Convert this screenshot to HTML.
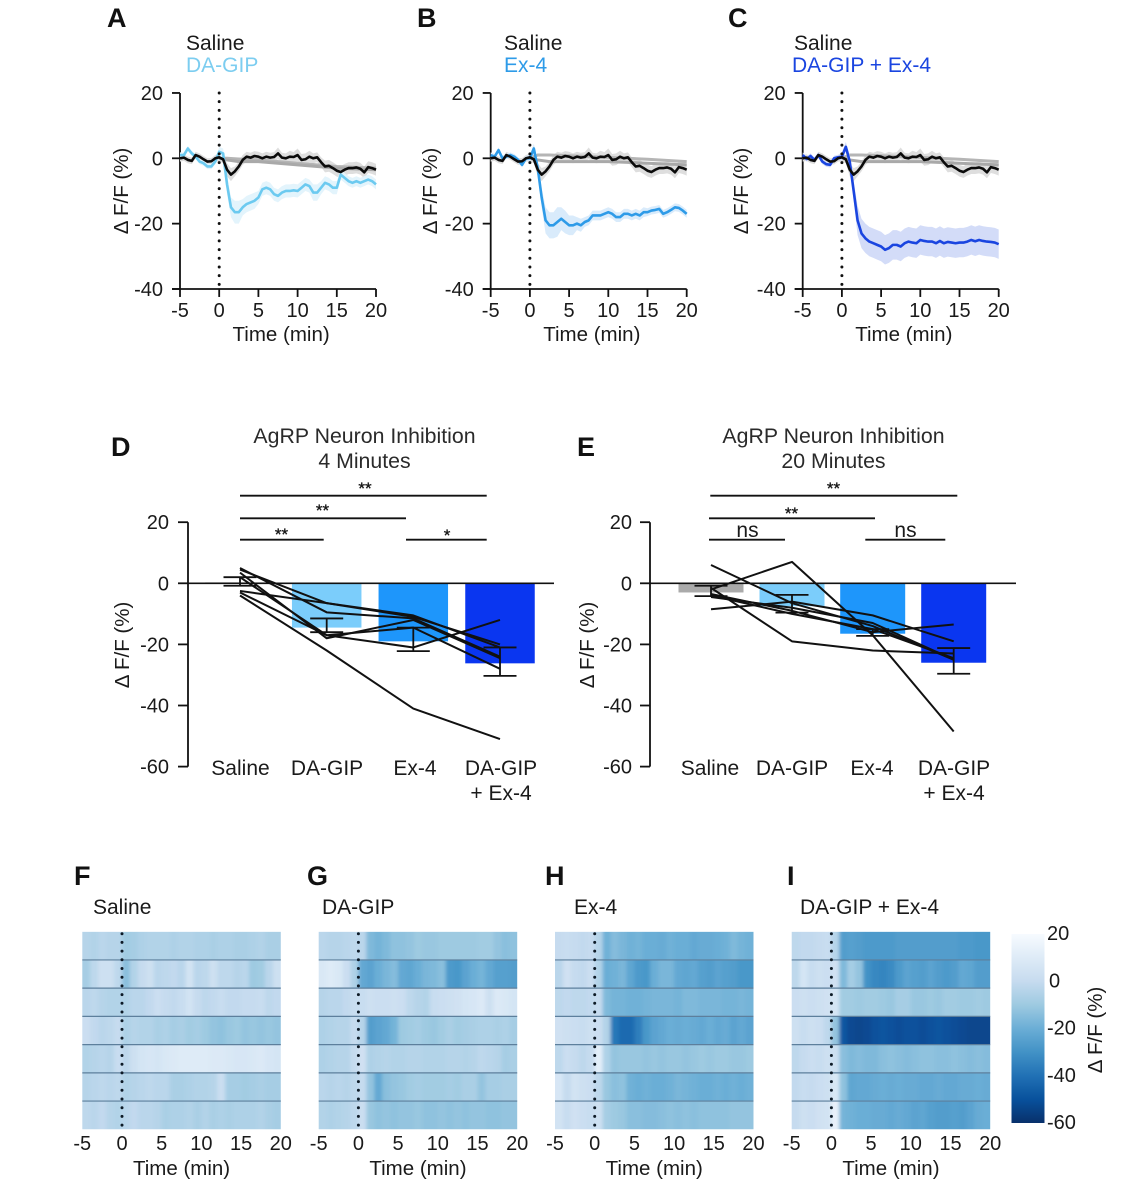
<!DOCTYPE html>
<html lang="en">
<head>
<meta charset="utf-8">
<title>AgRP neuron inhibition figure</title>
<style>
html,body{margin:0;padding:0;background:#fff;}
#figure{display:block;width:1136px;height:1200px;font-family:"Liberation Sans",sans-serif;fill:#1a1a1a;filter:blur(0.35px);}
#figure text{font-family:"Liberation Sans",sans-serif;}
.tick{font-size:20px;}
.letter{font-size:27px;font-weight:bold;fill:#111;}
.lab{font-size:20.5px;}
.legend{font-size:21px;}
.title{font-size:21.3px;fill:#2a2a2a;}
.star{font-size:17px;stroke:#1a1a1a;stroke-width:0.35px;}
</style>
</head>
<body>
<svg id="figure" xmlns="http://www.w3.org/2000/svg" width="1136" height="1200" viewBox="0 0 1136 1200">
  <defs>
    <filter id="smear" x="-5%" y="0%" width="110%" height="100%"><feGaussianBlur stdDeviation="1.8 0"/></filter>
    <linearGradient id="cbar-gradient" x1="0" y1="0" x2="0" y2="1"></linearGradient>
  </defs>
  <text class="letter" x="107" y="27">A</text>
  <text class="letter" x="417" y="27">B</text>
  <text class="letter" x="728" y="27">C</text>
  <text class="letter" x="111" y="456">D</text>
  <text class="letter" x="577" y="456">E</text>
  <text class="letter" x="74" y="885">F</text>
  <text class="letter" x="307" y="885">G</text>
  <text class="letter" x="545" y="885">H</text>
  <text class="letter" x="787" y="885">I</text>

  <text class="legend" x="186" y="50">Saline</text>
  <text class="legend" x="186" y="72" style="fill:#7ccdf0">DA-GIP</text>
  <text class="legend" x="504" y="50">Saline</text>
  <text class="legend" x="504" y="72" style="fill:#2e9be8">Ex-4</text>
  <text class="legend" x="794" y="50">Saline</text>
  <text class="legend" x="792" y="72" style="fill:#1a45e0">DA-GIP + Ex-4</text>

  <text class="title" x="364.5" y="443" text-anchor="middle">AgRP Neuron Inhibition</text>
  <text class="title" x="364.5" y="468" text-anchor="middle">4 Minutes</text>
  <text class="title" x="833.5" y="443" text-anchor="middle">AgRP Neuron Inhibition</text>
  <text class="title" x="833.5" y="468" text-anchor="middle">20 Minutes</text>

  <text class="legend" x="93" y="914">Saline</text>
  <text class="legend" x="322" y="914">DA-GIP</text>
  <text class="legend" x="574" y="914">Ex-4</text>
  <text class="legend" x="800" y="914">DA-GIP + Ex-4</text>
  <g id="layer"></g>
</svg>
<script>
/* ---------- Panels A-C: time-course data ---------- */
const timeMin = [-5,-4.5,-4,-3.5,-3,-2.5,-2,-1.5,-1,-0.5,0,0.5,1,1.5,2,2.5,3,3.5,4,4.5,5,5.5,6,6.5,7,7.5,8,8.5,9,9.5,10,10.5,11,11.5,12,12.5,13,13.5,14,14.5,15,15.5,16,16.5,17,17.5,18,18.5,19,19.5,20];
const salineMean = [0,0.2,-0.5,-0.8,1,0.5,-0.3,-1,-0.9,0,0.3,-0.3,-3.5,-5,-4,-2.5,-0.5,0.5,0.2,0.7,0.5,0,0.5,0.2,0.4,1.5,0.2,0,0.5,0.4,1,-0.5,-0.3,0.5,0,0.3,-1.2,-2.5,-2.3,-3,-3.8,-4.2,-3.5,-3,-3,-2.8,-3.2,-4.3,-2.7,-3,-3.5];
const salineSem = [1,1,1,1,1,1,1,1,1,1,1.2,1.2,2,2,1.5,1.5,1.5,1.5,1.5,1.5,1.5,1.5,1.5,1.5,1.5,1.8,1.5,1.5,1.8,1.5,2,1.8,1.8,1.8,1.5,1.5,1.5,1.8,1.8,1.8,1.8,1.8,1.8,1.8,1.8,1.8,1.8,1.8,1.8,1.8,1.8];
const daGipMean = [1,1,3,1.5,0.5,-1,-1.5,-2.5,-2.5,-1,2,1.5,-8,-15,-16.5,-16.5,-15,-14,-13.5,-13,-12,-9.5,-9,-9.5,-11,-11.5,-10.5,-10,-10,-9.8,-10,-9,-8,-8.5,-10.5,-10.5,-9,-7.5,-8,-9,-9,-5,-6,-7,-7.5,-7,-7.5,-7,-6.5,-7,-8];
const daGipSem = [0.8,0.8,0.8,0.8,0.8,0.8,0.8,0.8,0.8,0.8,1.5,1.5,3,3,3.5,3.5,2.5,2.5,2.5,2.5,2,2,2,2,2,2,2,2,2,2,2,2,2,2,2.5,2.5,2,2,2,2,2,1.5,1.5,1.5,1.5,1.5,1.5,1.5,1.5,1.5,1.5];
const ex4Mean = [1,0.5,2.5,0,0.5,1,0.5,-0.5,-2,0,0,3,-3,-12,-19,-20.5,-20.5,-19.5,-18.5,-19.5,-20.5,-20.5,-20,-20.5,-19.5,-19,-17.5,-17.5,-17.5,-17,-16.5,-17,-18,-18,-17,-17,-17.5,-17,-17.5,-16.5,-16.5,-16,-15.8,-15.5,-17,-16.5,-15.8,-15,-15.2,-16,-17];
const ex4Sem = [0.8,0.8,0.8,0.8,0.8,0.8,0.8,0.8,0.8,0.8,1,1.5,2,3,4,4,4,4.5,3.5,3.5,3,3,2,2,1.5,1.5,1.5,1.5,1.5,1.5,1.5,1.5,1.5,1.5,1.5,1.5,1.5,1.5,1.5,1.5,1.2,1.2,1.2,1.2,1.2,1.2,1.2,1.2,1.2,1.2,1.2];
const comboMean = [1,-0.2,0.7,-0.5,1,-1,-1.8,-2,0,0.3,0.5,3.5,-1,-10,-19,-23,-24.5,-25.5,-26,-26.5,-27,-28,-27.5,-26.5,-26.5,-27,-26,-25.5,-25.8,-26,-25,-25.3,-25.5,-25.5,-26,-25.3,-26,-25.6,-25.8,-26,-25.8,-25.8,-25.5,-25,-25.4,-25,-25.3,-25.5,-25.6,-25.8,-26.3];
const comboSem = [0.8,0.8,0.8,0.8,0.8,0.8,0.8,0.8,0.8,0.8,1.2,1.5,2,3,4.5,4.5,4.5,4.5,4.5,4.5,4.5,4.5,4.5,4.5,4.5,4.5,4.5,4.5,4.5,4.5,4.5,4.5,4.5,4.5,4.5,4.5,4.5,4.5,4.5,4.5,4.5,4.5,4.5,4.5,4.5,4.5,4.5,4.5,4.5,4.5,4.5];
const fitTimes = [0,1,2.5,5,10,15,20];
const fitAUpper = [0,0,-0.2,-0.5,-1.5,-2.5,-3];
const fitALower = [0,-0.5,-1,-1,-2,-3,-3.5];
const fitBCUpper = [0,1,1,0.8,0.3,-0.3,-1];
const fitBCLower = [0,-0.5,-1,-1,-1,-1.5,-2];
const timeTicks = [-5,0,5,10,15,20];
const traceYTicks = [20,0,-20,-40];

/* ---------- Panels D-E: bar data ---------- */
const barCategories = ["Saline","DA-GIP","Ex-4","DA-GIP + Ex-4"];
const barYTicks = [20,0,-20,-40,-60];
const dBarValues = [0.3,-14.5,-19,-26.2];
const dErrHigh = [2,-11.5,-14.5,-21];
const dErrLow = [-0.8,-16,-22.2,-30.3];
const dSubject1 = [4.5,-6.5,-11,-20];
const dSubject2 = [5,-9.5,-11.5,-24];
const dSubject3 = [3.5,-18,-12,-24.5];
const dSubject4 = [2,-17,-21,-12];
const dSubject5 = [-2.5,-6.5,-10.5,-21];
const dSubject6 = [-3,-17,-14.5,-28];
const dSubject7 = [-4,-22,-41,-51];
const eBarValues = [-3,-7.5,-16.5,-26];
const eErrHigh = [-0.8,-3.8,-15,-21.2];
const eErrLow = [-4.2,-9.6,-17.2,-29.6];
const eSubject1 = [6,-6.5,-14,-25];
const eSubject2 = [-2,7,-17,-48.5];
const eSubject3 = [-8.5,-6,-10.5,-19];
const eSubject4 = [-1.5,-19,-22,-23];
const eSubject5 = [-3.5,-9,-16,-13.5];
const eSubject6 = [-4,-10,-15,-24.5];
const eSubject7 = [-4.5,-8,-13,-25];

/* ---------- Panels F-I: heatmap data (1-min bins, -5 to 20 min) ---------- */
const heatF = [
[-4,-5,-3,-4,-4,-9,-8,-6,-5,-5,-5,-6,-5,-5,-6,-6,-7,-6,-6,-7,-7,-6,-5,-7,-7],
[-8,-2,3,3,-2,-14,-5,0,3,-3,-2,-1,-3,5,-3,-2,3,-2,-2,-4,-3,-10,-9,-3,3],
[-3,-2,-4,-5,-5,-5,-3,-3,-1,2,0,-1,1,5,0,-2,-1,1,-1,-1,0,0,1,-2,-1],
[2,-1,-3,-2,0,-6,-4,-5,-5,-7,-6,-8,-7,-9,-8,-10,-12,-13,-11,-10,-12,-11,-12,-11,-12],
[-5,-4,-3,-4,1,-2,3,6,7,6,8,9,10,10,10,10,9,9,8,7,7,8,9,7,6],
[-4,-3,-2,-3,-2,-5,-4,-3,-2,-3,-3,-7,-7,-6,-5,-5,-4,2,-8,-8,-9,-8,-7,-8,-8],
[-2,-3,-1,-4,-5,-3,-1,-3,-3,-4,-7,-6,-6,-5,-7,-5,-7,-6,-7,-6,-6,-6,-5,-7,-8]];
const heatG = [
[-3,-4,-4,-3,-2,-3,-16,-18,-16,-13,-13,-12,-10,-11,-11,-10,-10,-10,-10,-10,-9,-9,-12,-14,-13],
[8,10,8,2,-6,-22,-24,-20,-17,-15,-22,-23,-20,-17,-16,-14,-27,-28,-24,-20,-18,-22,-25,-25,-26],
[-4,-3,-3,-1,1,1,3,2,2,3,2,-2,-4,-5,1,2,3,4,6,7,9,3,9,8,6],
[-6,-5,-4,-4,0,-4,-26,-24,-22,-18,-10,-9,-8,-10,-11,-9,-7,-9,-8,-7,-6,-6,-7,-6,-8],
[-6,-5,-4,-4,0,4,-6,-5,-4,-5,-5,-4,-4,-5,-5,-5,-4,-4,-5,-4,-2,-3,-4,-8,-7],
[-3,-4,-3,-4,-2,0,-12,-22,-14,-12,-11,-9,-8,-9,-9,-9,-8,-9,-7,-7,-12,-8,-8,-7,-7],
[-5,-6,-5,-4,-2,2,-11,-13,-12,-13,-12,-12,-11,-13,-13,-12,-13,-12,-13,-12,-12,-13,-13,-12,-12]];
const heatH = [
[0,1,0,-1,0,-4,-19,-15,-17,-19,-18,-20,-20,-21,-19,-20,-20,-22,-21,-21,-20,-19,-16,-18,-19],
[-3,4,0,-1,2,-5,-20,-19,-17,-23,-27,-28,-20,-17,-17,-22,-23,-22,-25,-26,-24,-25,-26,-28,-28],
[-2,-1,-2,-2,-1,0,-16,-18,-18,-19,-19,-18,-17,-17,-17,-18,-16,-16,-17,-17,-17,-18,-18,-17,-18],
[4,3,2,1,3,2,-5,-38,-42,-42,-36,-28,-24,-22,-20,-21,-20,-21,-22,-20,-22,-21,-24,-22,-24],
[-2,2,0,-2,0,12,-6,-12,-11,-11,-11,-12,-11,-12,-11,-11,-12,-11,-10,-11,-10,-10,-11,-11,-10],
[7,0,5,3,2,-2,-11,-14,-13,-19,-20,-19,-20,-20,-19,-17,-18,-19,-20,-20,-19,-20,-19,-20,-19],
[5,1,4,2,1,3,-8,-10,-11,-14,-14,-15,-15,-14,-13,-14,-13,-14,-13,-13,-13,-13,-12,-12,-12]];
const heatI = [
[-2,-1,-1,0,1,-4,-26,-25,-26,-27,-27,-27,-27,-26,-26,-26,-26,-26,-26,-26,-26,-27,-27,-28,-28],
[-2,6,1,3,2,4,-16,-8,-12,-30,-33,-34,-32,-27,-24,-25,-26,-24,-26,-27,-26,-22,-23,-26,-26],
[2,3,2,3,4,6,-9,-9,-10,-9,-9,-10,-11,-8,-8,-11,-11,-10,-11,-9,-9,-10,-10,-9,-10],
[3,1,3,2,-2,-12,-48,-52,-53,-52,-50,-49,-50,-51,-50,-50,-51,-50,-49,-50,-51,-52,-53,-53,-53],
[-2,0,2,1,3,3,-14,-16,-15,-16,-16,-14,-13,-14,-15,-14,-13,-13,-14,-14,-13,-14,-15,-14,-15],
[-1,1,0,2,3,8,-13,-23,-22,-22,-21,-20,-21,-20,-21,-21,-22,-22,-21,-22,-22,-21,-21,-20,-21],
[0,3,2,4,5,14,-18,-19,-20,-20,-21,-21,-22,-21,-22,-24,-23,-25,-26,-26,-25,-26,-24,-21,-20]];
const colorbarTicks = [20,0,-20,-40,-60];
const blues = ["#f7fbff","#deebf7","#c6dbef","#9ecae1","#6baed6","#4292c6","#2171b5","#08519c","#08306b"];

const NS = "http://www.w3.org/2000/svg";
const layer = document.getElementById("layer");

function mk(tag, attrs, parent) {
  const el = document.createElementNS(NS, tag);
  for (const k in attrs) el.setAttribute(k, attrs[k]);
  
  parent.appendChild(el);
  return el;
}
function txt(label, attrs, parent) {
  const el = mk("text", attrs, parent);
  el.textContent = label;
  return el;
}
function hex2rgb(h) { return [1,3,5].map(i => parseInt(h.substr(i,2),16)); }
function heatColor(v) {
  const t = Math.max(0, Math.min(1, (20 - v) / 80)) * (blues.length - 1);
  const i = Math.min(blues.length - 2, Math.floor(t));
  const a = hex2rgb(blues[i]), b = hex2rgb(blues[i+1]), f = t - i;
  return "rgb(" + a.map((c, j) => Math.round(c + (b[j] - c) * f)).join(",") + ")";
}
function pathOf(xs, ys) {
  return xs.map((x, i) => (i ? "L" : "M") + x.toFixed(2) + " " + ys[i].toFixed(2)).join("");
}

/* ---------- time-course panels ---------- */
function tracePanel(key, x0, series, sem, color, band, fitUpper, fitLower, labelX) {
  const g = mk("g", {}, layer);
  
  const sx = t => x0 + (t + 5) * 196 / 25;
  const sy = v => 158.3 - v * 196 / 60;

  const yAxis = mk("path", {d:"M"+x0+" "+sy(20)+"V"+sy(-40), stroke:"#111", "stroke-width":1.8, fill:"none"}, g);
  
  const xAxis = mk("path", {d:"M"+(x0-8)+" "+sy(-40)+"H"+sx(20), stroke:"#111", "stroke-width":1.8, fill:"none"}, g);
  
  traceYTicks.forEach(v => {
    const tick = mk("line", {x1:x0-8, x2:x0, y1:sy(v), y2:sy(v), stroke:"#111", "stroke-width":1.8}, g);
    
    const lab = txt(String(v), {class:"tick", x:x0-17, y:sy(v)+7, "text-anchor":"end"}, g);
    
  });
  timeTicks.forEach(v => {
    const tick = mk("line", {x1:sx(v), x2:sx(v), y1:sy(-40), y2:sy(-40)+8, stroke:"#111", "stroke-width":1.8}, g);
    
    const lab = txt(String(v), {class:"tick", x:sx(v), y:317, "text-anchor":"middle"}, g);
    
  });
  const xt = txt("Time (min)", {class:"lab", x:sx(7.9), y:341, "text-anchor":"middle"}, g);
  
  const yt = txt("Δ F/F (%)", {class:"lab", transform:"translate("+labelX+",191) rotate(-90)", "text-anchor":"middle"}, g);
  

  const xs = timeMin.map(sx);
  const fitXs = fitTimes.map(sx);
  const sUp = salineMean.map((v, i) => sy(v + salineSem[i]));
  const sLo = salineMean.map((v, i) => sy(v - salineSem[i]));
  const salineBand = mk("path", {d:pathOf(xs.concat(xs.slice().reverse()), sUp.concat(sLo.slice().reverse()))+"Z", fill:"#dedede", stroke:"none"}, g);
  
  const f1 = mk("path", {d:pathOf(fitXs, fitUpper.map(sy)), stroke:"#b5b5b5", "stroke-width":3, fill:"none"}, g);
  
  const f2 = mk("path", {d:pathOf(fitXs, fitLower.map(sy)), stroke:"#a9a9a9", "stroke-width":3, fill:"none"}, g);
  

  const up = series.map((v, i) => sy(v + sem[i]));
  const lo = series.map((v, i) => sy(v - sem[i]));
  const drugBand = mk("path", {d:pathOf(xs.concat(xs.slice().reverse()), up.concat(lo.slice().reverse()))+"Z", fill:band, stroke:"none"}, g);
  
  const drug = mk("path", {d:pathOf(xs, series.map(sy)), stroke:color, "stroke-width":2.6, fill:"none", "stroke-linejoin":"round"}, g);
  
  const sal = mk("path", {d:pathOf(xs, salineMean.map(sy)), stroke:"#0b0b0b", "stroke-width":2.6, fill:"none", "stroke-linejoin":"round"}, g);
  
  const inj = mk("line", {x1:sx(0), x2:sx(0), y1:sy(20), y2:sy(-40), stroke:"#111", "stroke-width":3, "stroke-linecap":"round", "stroke-dasharray":"0 8.7"}, g);
  
}
tracePanel("a", 180, daGipMean, daGipSem, "#6ccaf0", "#e3f4fc", fitAUpper, fitALower, 128);
tracePanel("b", 490.7, ex4Mean, ex4Sem, "#2e9be8", "#d9ebfb", fitBCUpper, fitBCLower, 437);
tracePanel("c", 802.7, comboMean, comboSem, "#1a45e0", "#d3dcf8", fitBCUpper, fitBCLower, 748);

/* ---------- bar panels ---------- */
function barPanel(key, axisX, zeroEnd, centers, barW, saltColor, values, hi, lo, subjects, tickEnd, labelX, catLabels) {
  const g = mk("g", {}, layer);
  
  const sy = v => 583.3 - v * 3.055;
  const colors = [saltColor, "#7bcdfb", "#1e96fb", "#0a36f0"];
  values.forEach((v, i) => {
    const bar = mk("rect", {x:centers[i]-barW/2, width:barW, y:Math.min(sy(0), sy(v)), height:Math.abs(sy(v)-sy(0)), fill:colors[i]}, g);
    
  });
  const yAxis = mk("path", {d:"M"+axisX+" "+sy(20)+"V"+sy(-60), stroke:"#111", "stroke-width":1.8, fill:"none"}, g);
  
  const zero = mk("line", {x1:axisX, x2:zeroEnd, y1:sy(0), y2:sy(0), stroke:"#111", "stroke-width":1.6}, g);
  
  barYTicks.forEach(v => {
    const tick = mk("line", {x1:axisX-10, x2:axisX, y1:sy(v), y2:sy(v), stroke:"#111", "stroke-width":1.8}, g);
    
    const lab = txt(String(v), {class:"tick", x:tickEnd, y:sy(v)+7, "text-anchor":"end"}, g);
    
  });
  subjects.forEach((s, n) => {
    const line = mk("path", {d:pathOf(centers, s.map(sy)), stroke:"#111", "stroke-width":2, fill:"none", "stroke-linejoin":"round"}, g);
    
  });
  centers.forEach((c, i) => {
    const err = mk("path", {d:"M"+c+" "+sy(hi[i])+"V"+sy(lo[i])+"M"+(c-16.5)+" "+sy(hi[i])+"H"+(c+16.5)+"M"+(c-16.5)+" "+sy(lo[i])+"H"+(c+16.5), stroke:"#111", "stroke-width":1.8, fill:"none"}, g);
    
  });
  catLabels.forEach((c, i) => {
    const parts = barCategories[i] === "DA-GIP + Ex-4" ? ["DA-GIP","+ Ex-4"] : [barCategories[i]];
    parts.forEach((p, j) => {
      const lab = txt(p, {class:"legend", x:c, y:775+j*25, "text-anchor":"middle"}, g);
      
    });
  });
  const yt = txt("Δ F/F (%)", {class:"lab", transform:"translate("+labelX+",645) rotate(-90)", "text-anchor":"middle"}, g);
  
}
barPanel("d", 188, 554, [240,326.7,413.3,500], 69.5, "#aaaaaa", dBarValues, dErrHigh, dErrLow,
  [dSubject1,dSubject2,dSubject3,dSubject4,dSubject5,dSubject6,dSubject7], 169, 129, [240.5,327,415,501]);
barPanel("e", 650, 1016, [711,792,872.7,953.7], 65, "#aaaaaa", eBarValues, eErrHigh, eErrLow,
  [eSubject1,eSubject2,eSubject3,eSubject4,eSubject5,eSubject6,eSubject7], 632, 594, [710,792,872,954]);

/* significance brackets */
function sig(key, x1, x2, y, label, lx, ly, cls) {
  const l = mk("line", {x1:x1, x2:x2, y1:y, y2:y, stroke:"#111", "stroke-width":1.8}, layer);
  
  const t = txt(label, {class:cls, x:lx, y:ly, "text-anchor":"middle"}, layer);
  
}
sig("d1", 240, 486.7, 495.7, "**", 365, 494, "star");
sig("d2", 240, 406, 518.3, "**", 322.5, 516, "star");
sig("d3", 240, 323.7, 539.7, "**", 281.5, 540, "star");
sig("d4", 406, 486.7, 539.7, "*", 447, 541, "star");
sig("e1", 710.3, 957.3, 495.7, "**", 833.5, 494, "star");
sig("e2", 709, 875, 518.3, "**", 791.5, 519, "star");
sig("e3", 709, 785, 539.7, "ns", 747.5, 537, "legend");
sig("e4", 865.3, 945.3, 539.7, "ns", 905.5, 537, "legend");

/* ---------- heatmaps ---------- */
function heatmap(key, x0, rows) {
  const W = 198.5, top = 931.7, H = 197.6;
  const g = mk("g", {}, layer);
  
  const clip = mk("clipPath", {id:"clip-" + key}, g);
  
  const clipRect = mk("rect", {x:x0, y:top, width:W, height:H}, clip);
  
  const outer = mk("g", {"clip-path":"url(#clip-" + key + ")"}, g);
  
  const inner = mk("g", {filter:"url(#smear)"}, outer);
  
  const sx = b => x0 + b * W / 25;
  const rh = H / rows.length;
  rows.forEach((row, r) => {
    row.forEach((v, b) => {
      const lead = b === 0 ? 10 : 0;
      const trail = b === row.length - 1 ? 10 : 0.6;
      const cell = mk("rect", {x:sx(b)-lead, y:top+r*rh, width:W/25+lead+trail, height:rh+0.3, fill:heatColor(v)}, inner);
      
    });
  });
  for (let r = 1; r < rows.length; r++) {
    const sep = mk("line", {x1:x0, x2:x0+W, y1:top+r*rh, y2:top+r*rh, stroke:"#5d7f9c", "stroke-width":1.2}, g);
    
  }
  const zero = mk("line", {x1:sx(5), x2:sx(5), y1:top+2, y2:top+H, stroke:"#0d1a26", "stroke-width":3, "stroke-linecap":"round", "stroke-dasharray":"0 8.7"}, g);
  
  timeTicks.forEach(v => {
    const lab = txt(String(v), {class:"tick", x:sx(v+5), y:1150, "text-anchor":"middle"}, g);
    
  });
  const xt = txt("Time (min)", {class:"lab", x:sx(12.5), y:1175, "text-anchor":"middle"}, g);
  
}
heatmap("f", 82.3, heatF);
heatmap("g", 318.7, heatG);
heatmap("h", 555, heatH);
heatmap("i", 791.7, heatI);

/* ---------- colour bar ---------- */
const grad = document.getElementById("cbar-gradient");
blues.forEach((c, i) => {
  const stop = document.createElementNS(NS, "stop");
  stop.setAttribute("offset", (i / (blues.length - 1)));
  stop.setAttribute("stop-color", c);
  grad.appendChild(stop);
});
const cbG = mk("g", {}, layer);

const cbRect = mk("rect", {x:1011.5, y:934, width:33, height:189, fill:"url(#cbar-gradient)"}, cbG);

const cbY = v => 933 + (20 - v) * 189 / 80;
colorbarTicks.forEach(v => {
  const lab = txt(String(v), {class:"tick", x:v === 0 ? 1049 : 1047, y:cbY(v)+7, "text-anchor":"start"}, cbG);
  
});
const cbT = txt("Δ F/F (%)", {class:"lab", transform:"translate(1102,1030) rotate(-90)", "text-anchor":"middle"}, cbG);

</script>
</body>
</html>
